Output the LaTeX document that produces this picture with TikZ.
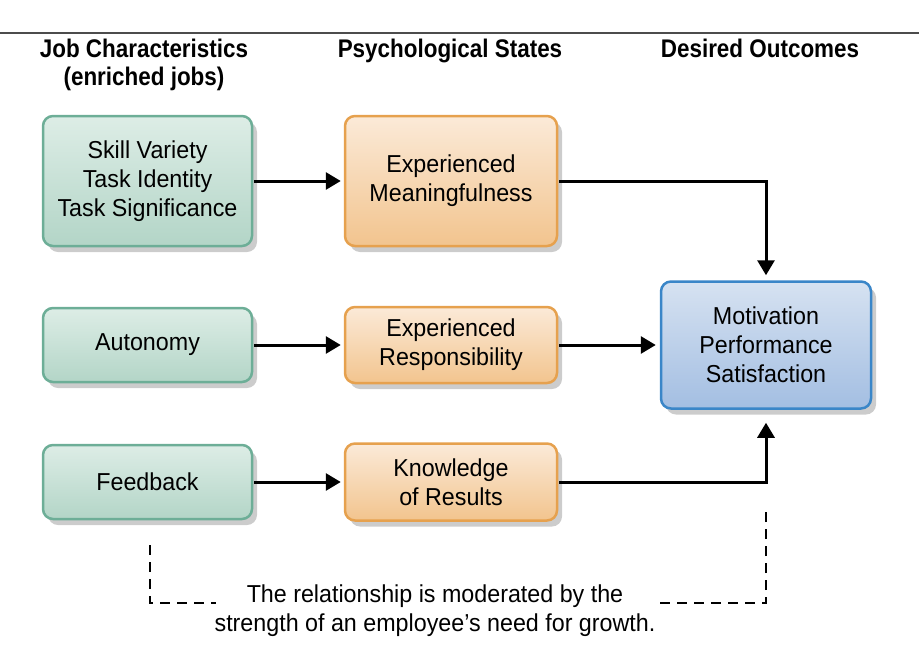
\documentclass[tikz,border=0pt]{standalone}
\usepackage{fontspec}
\setmainfont{Liberation Sans}[FakeStretch=0.95]
\newfontfamily\headfont{Liberation Sans}[FakeStretch=0.88]
\usetikzlibrary{arrows.meta,shadows}
\definecolor{gtop}{HTML}{DDEDE6}
\definecolor{gbot}{HTML}{B3D5C7}
\definecolor{gbrd}{HTML}{6DAE97}
\definecolor{otop}{HTML}{FBEAD8}
\definecolor{obot}{HTML}{F2C48E}
\definecolor{obrd}{HTML}{E6A14E}
\definecolor{btop}{HTML}{D6E2F1}
\definecolor{bbot}{HTML}{A3BEE2}
\definecolor{bbrd}{HTML}{3A86C8}
\begin{document}
\begin{tikzpicture}[x=1pt,y=-1pt,
  box/.style={rounded corners=10pt, line width=2.5pt, inner sep=0pt, align=center,
    font=\fontsize{24.5}{29}\selectfont,
    drop shadow={shadow xshift=5pt, shadow yshift=-6pt, fill=black!20, opacity=1}},
  gbox/.style={box, draw=gbrd, top color=gtop, bottom color=gbot, minimum width=209pt},
  obox/.style={box, draw=obrd, top color=otop, bottom color=obot, minimum width=212pt},
  bbox/.style={box, draw=bbrd, top color=btop, bottom color=bbot, minimum width=210pt},
  head/.style={font=\headfont\bfseries\fontsize{25.5}{28}\selectfont, align=center, anchor=north, inner sep=4pt},
  arr/.style={line width=3pt, -{Triangle[length=15pt,width=17pt]}},
  dsh/.style={line width=2.6pt, dash pattern=on 10pt off 7pt},
  note/.style={font=\fontsize{24.5}{29}\selectfont, align=center}]
\useasboundingbox (0,0) rectangle (919,654);
\draw[line width=1.5pt, black!70] (0,33) -- (919,33);

\node[head] (h1) at (144,35) {Job Characteristics\\(enriched jobs)};
\node[head] (h2) at (450,35) {Psychological States};
\node[head] (h3) at (760,35) {Desired Outcomes};

\node[gbox, minimum height=130pt] (g1) at (147.5,181) {Skill Variety\\Task Identity\\Task Significance};
\node[obox, minimum height=130pt] (o1) at (451,181) {Experienced\\Meaningfulness};
\node[gbox, minimum height=74pt] (g2) at (147.5,345) {Autonomy};
\node[obox, minimum height=76pt] (o2) at (451,345) {Experienced\\Responsibility};
\node[gbox, minimum height=74pt] (g3) at (147.5,482) {Feedback};
\node[obox, minimum height=77pt] (o3) at (451,482) {Knowledge\\of Results};
\node[bbox, minimum height=127pt] (b) at (766,345) {Motivation\\Performance\\Satisfaction};

\draw[arr, shorten <=1pt, shorten >=3pt] (g1.east) -- (o1.west);
\draw[arr, shorten <=1pt, shorten >=3pt] (g2.east) -- (o2.west);
\draw[arr, shorten <=1pt, shorten >=3pt] (g3.east) -- (o3.west);
\draw[arr, shorten <=1pt, shorten >=4pt] (o2.east) -- (b.west);
\draw[arr, shorten <=1pt, shorten >=5pt] (o1.east) -| (b.north);
\draw[arr, shorten <=1pt, shorten >=13pt] (o3.east) -| (b.south);

\coordinate (dl1) at (150,545);
\coordinate (dl2) at (150,603);
\coordinate (dl3) at (216,603);
\coordinate (dr1) at (660,603);
\coordinate (dr2) at (b.south |- dl2);
\coordinate (dr3) at (766,505);
\draw[dsh] (dl1) -- (dl2) -- (dl3);
\draw[dsh] (dr1) -- (dr2) -- (dr3);

\node[note] (n) at (435,611) {The relationship is moderated by the\\strength of an employee’s need for growth.};
\end{tikzpicture}
\end{document}
